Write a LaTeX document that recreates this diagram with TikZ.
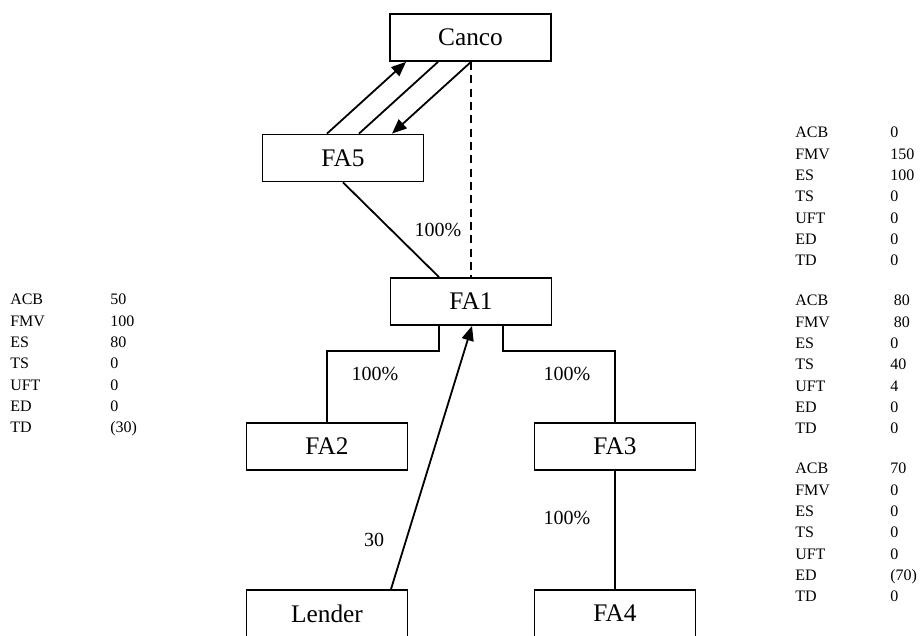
\documentclass[tikz,border=0pt]{standalone}
\usepackage{fontspec}
\setmainfont{Liberation Serif}
\usetikzlibrary{arrows.meta,calc}
\begin{document}
\begin{tikzpicture}[x=0.75pt,y=-0.75pt,
  box/.style={draw,line width=1.35pt,minimum width=120.75pt,minimum height=35.25pt,inner sep=0pt,font=\fontsize{19}{22}\selectfont},
  ln/.style={line width=1.35pt},
  arr/.style={line width=1.35pt,-{Triangle[length=11pt,width=9pt]}},
  dsh/.style={line width=1.35pt,dash pattern=on 6pt off 4pt},
  lbl/.style={font=\fontsize{15}{18}\selectfont,inner sep=0pt},
  tbl/.style={font=\fontsize{12}{16}\selectfont,align=left,inner sep=0pt,anchor=north west}]
\clip (0,0) rectangle (923,635);
\fill[white] (0,0) rectangle (923,635);
% boxes
\node[box] (canco) at (470.5,37.5) {Canco};
\node[box] (fa5) at (343,158) {FA5};
\node[box] (fa1) at (471,301.5) {FA1};
\node[box] (fa2) at (327,446.5) {FA2};
\node[box] (fa3) at (615,446.5) {FA3};
\node[box] (lender) at (327,613.5) {Lender};
\node[box] (fa4) at (615,613.5) {FA4};
% connectors
\draw[arr] ($(fa5.north)+(-16,0)$) -- ($(canco.south)+(-64.5,0)$);
\draw[ln] ($(fa5.north)+(16,0)$) -- ($(canco.south)+(-32.5,0)$);
\draw[arr] ($(canco.south)+(0.5,0)$) -- ($(fa5.north)+(49,0)$);
\draw[dsh] ($(canco.south)+(0.5,0)$) -- (fa1.north);
\draw[ln] (fa5.south) -- ($(fa1.north)+(-32,0)$);
\draw[ln] ($(fa1.south)+(-32,0)$) -- ++(0,25) -| (fa2.north);
\draw[ln] ($(fa1.south)+(32,0)$) -- ++(0,25) -| (fa3.north);
\draw[arr] ($(lender.north)+(64,0)$) -- ($(fa1.south)+(1,0)$);
\draw[ln] (fa3) -- (fa4);
% labels
\node[lbl] (l1) at (438,230) {100\%};
\node[lbl] (l2) at (375,374) {100\%};
\node[lbl] (l3) at (567,374) {100\%};
\node[lbl] (l4) at (567,518) {100\%};
\node[lbl] (l5) at (374,540) {30};
% tables
\node[tbl] (tl) at (10,294) {\makebox[75pt][l]{ACB}50\\\makebox[75pt][l]{FMV}100\\\makebox[75pt][l]{ES}80\\\makebox[75pt][l]{TS}0\\\makebox[75pt][l]{UFT}0\\\makebox[75pt][l]{ED}0\\\makebox[75pt][l]{TD}(30)};
\node[tbl] (t1) at (795,127) {\makebox[71.25pt][l]{ACB}0\\\makebox[71.25pt][l]{FMV}150\\\makebox[71.25pt][l]{ES}100\\\makebox[71.25pt][l]{TS}0\\\makebox[71.25pt][l]{UFT}0\\\makebox[71.25pt][l]{ED}0\\\makebox[71.25pt][l]{TD}0};
\node[tbl] (t2) at (795,295) {\makebox[74pt][l]{ACB}80\\\makebox[74pt][l]{FMV}80\\\makebox[71.25pt][l]{ES}0\\\makebox[71.25pt][l]{TS}40\\\makebox[71.25pt][l]{UFT}4\\\makebox[71.25pt][l]{ED}0\\\makebox[71.25pt][l]{TD}0};
\node[tbl] (t3) at (795,463) {\makebox[71.25pt][l]{ACB}70\\\makebox[71.25pt][l]{FMV}0\\\makebox[71.25pt][l]{ES}0\\\makebox[71.25pt][l]{TS}0\\\makebox[71.25pt][l]{UFT}0\\\makebox[71.25pt][l]{ED}(70)\\\makebox[71.25pt][l]{TD}0};
\end{tikzpicture}
\end{document}
